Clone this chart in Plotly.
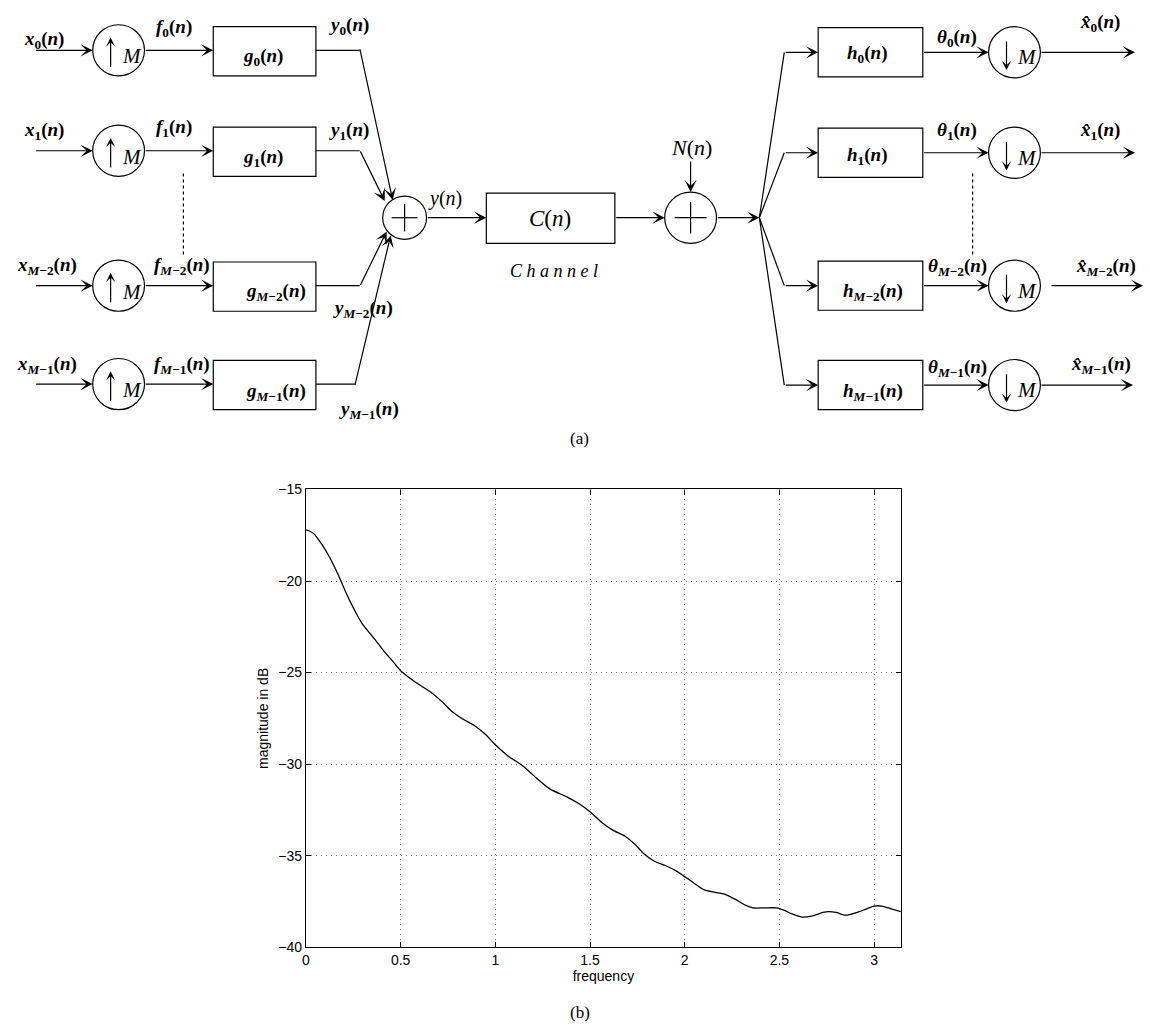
import math
import plotly.graph_objects as go

# ---------------- data for panel (b) ----------------
freq = [0, 0.04, 0.084, 0.13, 0.172, 0.21, 0.242, 0.295, 0.365, 0.417, 0.46, 0.5,
        0.575, 0.663, 0.72, 0.768, 0.83, 0.891, 0.95, 0.996, 1.067, 1.146, 1.2,
        1.288, 1.38, 1.44, 1.50, 1.564, 1.62, 1.687, 1.74, 1.78, 1.84, 1.9, 1.95, 1.994,
        2.05, 2.10, 2.16, 2.21, 2.27, 2.32, 2.36, 2.42, 2.485, 2.53, 2.56, 2.62,
        2.67, 2.73, 2.76, 2.80, 2.85, 2.91, 2.96, 3.0, 3.04, 3.09, 3.1416]
magnitude_db = [-17.2, -17.4, -18.0, -18.8, -19.7, -20.6, -21.3, -22.3, -23.2, -23.9,
                -24.4, -24.9, -25.5, -26.1, -26.6, -27.1, -27.55, -27.9, -28.4, -28.9,
                -29.55, -30.1, -30.6, -31.35, -31.8, -32.15, -32.6, -33.2, -33.6, -33.95,
                -34.4, -34.85, -35.3, -35.55, -35.8, -36.1, -36.5, -36.85, -37.0, -37.1,
                -37.4, -37.7, -37.85, -37.85, -37.85, -38.0, -38.15, -38.35, -38.3, -38.1,
                -38.05, -38.1, -38.25, -38.1, -37.9, -37.75, -37.75, -37.9, -38.05]
x_ticks = [0, 0.5, 1, 1.5, 2, 2.5, 3]
x_tick_labels = ["0", "0.5", "1", "1.5", "2", "2.5", "3"]
y_ticks = [-40, -35, -30, -25, -20, -15]
y_tick_labels = ["\u221240", "\u221235", "\u221230", "\u221225", "\u221220", "\u221215"]

# ---------------- diagram text ----------------
branch_subs = ["0", "1", "<i>M</i>\u22122", "<i>M</i>\u22121"]

W, H = 1151, 1036


def px(x):
    return x / W


def py(y):
    return 1 - y / H


LW = 1.2
BLACK = "black"
shapes = []
annotations = []


def line(x0, y0, x1, y1, dash=None):
    d = dict(type="line", xref="paper", yref="paper", x0=px(x0), y0=py(y0),
             x1=px(x1), y1=py(y1), line=dict(color=BLACK, width=LW))
    if dash:
        d["line"]["dash"] = dash
    shapes.append(d)


def rect(x0, y0, x1, y1):
    shapes.append(dict(type="rect", xref="paper", yref="paper", x0=px(x0), y0=py(y0),
                       x1=px(x1), y1=py(y1), line=dict(color=BLACK, width=LW)))


def circle(cx, cy, r):
    shapes.append(dict(type="circle", xref="paper", yref="paper", x0=px(cx - r),
                       y0=py(cy + r), x1=px(cx + r), y1=py(cy - r),
                       line=dict(color=BLACK, width=LW)))


def arrow(tx, ty, hx, hy, size=1.7):
    annotations.append(dict(xref="paper", yref="paper", x=px(hx), y=py(hy),
                            ax=tx - hx, ay=ty - hy, axref="pixel", ayref="pixel",
                            text="", showarrow=True, arrowhead=3, arrowsize=size,
                            arrowwidth=LW, arrowcolor=BLACK, standoff=0,
                            startstandoff=0))


LABEL_FONT = dict(family="Liberation Serif", size=19, color=BLACK)


def text(x, y, s, font=None, **kw):
    annotations.append(dict(xref="paper", yref="paper", x=px(x), y=py(y), text=s,
                            showarrow=False, xanchor="center", yanchor="middle",
                            font=font or LABEL_FONT, **kw))


def sig(base, sub):
    return f"<b><i>{base}</i><sub>{sub}</sub>(<i>n</i>)</b>"


M_FONT = dict(family="Liberation Serif", size=21, color=BLACK)

# ---------- left (synthesis) side ----------
row_left = [43, 145, 282, 382]
in_label = [(40, 33), (40, 125), (43, 262), (43, 363)]
f_label = [(171, 20), (171, 122), (179, 262), (179, 363)]
g_text = [(260, 50), (260, 152), (273, 288), (273, 390)]
y_label = [(346, 18), (346, 125), (360, 306), (366, 408)]
corner_x = [357, 357, 357, 352]
sum_heads = [(390, 195), (382, 196), (384, 227), (388, 231)]
UP_CX, UP_R = 115, 26
BOX_L, BOX_R = 210, 313

for i, ry in enumerate(row_left):
    arrow(31, ry, UP_CX - UP_R, ry)
    circle(UP_CX, ry, UP_R)
    arrow(UP_CX - 8, ry + 18, UP_CX - 8, ry - 13, size=1.3)
    text(UP_CX + 13, ry + 6, "<i>M</i>", font=M_FONT)
    arrow(UP_CX + UP_R, ry, BOX_L, ry)
    rect(BOX_L, ry - 24, BOX_R, ry + 26)
    text(*in_label[i], sig("x", branch_subs[i]))
    text(*f_label[i], sig("f", branch_subs[i]))
    text(*g_text[i], sig("g", branch_subs[i]))
    text(*y_label[i], sig("y", branch_subs[i]))
    line(BOX_R, ry, corner_x[i], ry)
    arrow(corner_x[i], ry, *sum_heads[i])

# dotted "..." lines
line(180, 168, 180, 252, dash="dot")
line(972, 168, 972, 252, dash="dot")

# ---------- summer, channel, noise ----------
SUM1 = (402, 213, 22)
circle(*SUM1)
line(SUM1[0] - 13, SUM1[1], SUM1[0] + 13, SUM1[1])
line(SUM1[0], SUM1[1] - 14, SUM1[0], SUM1[1] + 14)
text(443, 193, "<i>y</i>(<i>n</i>)", font=dict(family="Liberation Serif", size=20, color=BLACK))
arrow(SUM1[0] + SUM1[2], 213, 484, 213)
rect(484, 188, 613, 239)
text(548, 214, "<i>C</i>(<i>n</i>)", font=dict(family="Liberation Serif", size=23, color=BLACK))
text(552, 267, "<i>C h a n n e l</i>", font=dict(family="Liberation Serif", size=18, color=BLACK))
SUM2 = (689, 213, 26)
arrow(613, 213, SUM2[0] - SUM2[2], 213)
circle(*SUM2)
line(SUM2[0] - 16, SUM2[1], SUM2[0] + 16, SUM2[1])
line(SUM2[0], SUM2[1] - 16, SUM2[0], SUM2[1] + 16)
text(690, 142, "<i>N</i>(<i>n</i>)", font=dict(family="Liberation Serif", size=22, color=BLACK))
arrow(689, 155, 689, SUM2[1] - SUM2[2])
BRANCH = (758, 213)
arrow(SUM2[0] + SUM2[2], 213, *BRANCH)

# ---------- right (analysis) side ----------
row_right = [45, 147, 282, 383]
h_text = [(866, 47), (866, 150), (872, 288), (872, 390)]
theta_label = [(956, 30), (956, 125), (957, 263), (957, 366)]
xhat_label = [(1100, 15), (1100, 125), (1106, 263), (1101, 363)]
out_span = [(1040, 1135), (1040, 1135), (1050, 1143), (1040, 1133)]
HB_L, HB_R = 817, 922
DN_CX, DN_R = 1014, 26

for i, ry in enumerate(row_right):
    line(BRANCH[0], BRANCH[1], 783, ry)
    arrow(783, ry, HB_L, ry)
    rect(HB_L, ry - 25, HB_R, ry + 25)
    text(*h_text[i], sig("h", branch_subs[i]))
    arrow(HB_R, ry, DN_CX - DN_R, ry)
    circle(DN_CX, ry, DN_R)
    arrow(DN_CX - 8, ry - 12, DN_CX - 8, ry + 18, size=1.3)
    text(DN_CX + 13, ry + 5, "<i>M</i>", font=M_FONT)
    text(*theta_label[i], sig("\u03b8", branch_subs[i]))
    text(*xhat_label[i], sig("x\u0302", branch_subs[i]))
    arrow(out_span[i][0], ry, out_span[i][1], ry)

CAP_FONT = dict(family="Liberation Serif", size=17, color=BLACK)
text(578, 437, "(a)", font=CAP_FONT)
text(578, 1020, "(b)", font=CAP_FONT)

# ---------------- figure ----------------
fig = go.Figure()
fig.add_trace(go.Scatter(x=freq, y=magnitude_db, mode="lines",
                         line=dict(color="black", width=1.3, shape="spline", smoothing=0.7),
                         showlegend=False, hoverinfo="skip"))

AX_FONT = dict(family="Liberation Sans, Arial", size=14, color="black")
GRID = dict(showgrid=True, gridcolor="#777", griddash="1px,4px", gridwidth=1)
fig.update_layout(
    width=W, height=H, autosize=False,
    margin=dict(l=0, r=0, t=0, b=0),
    paper_bgcolor="white", plot_bgcolor="white",
    shapes=shapes, annotations=annotations,
    xaxis=dict(domain=[px(303), px(900)], range=[0, math.pi], tickvals=x_ticks,
               ticktext=x_tick_labels, ticks="inside", ticklen=5, tickcolor="black",
               showline=True, linecolor="black", linewidth=1.2, mirror="ticks",
               zeroline=False, tickfont=AX_FONT, **GRID,
               title=dict(text="frequency", font=AX_FONT, standoff=3)),
    yaxis=dict(domain=[py(954), py(489)], range=[-40, -15], tickvals=y_ticks,
               ticktext=y_tick_labels, ticks="inside", ticklen=5, tickcolor="black",
               showline=True, linecolor="black", linewidth=1.2, mirror="ticks",
               zeroline=False, tickfont=AX_FONT, **GRID,
               title=dict(text="magnitude in dB", font=AX_FONT, standoff=6)),
)

fig.write_html("out.html")
